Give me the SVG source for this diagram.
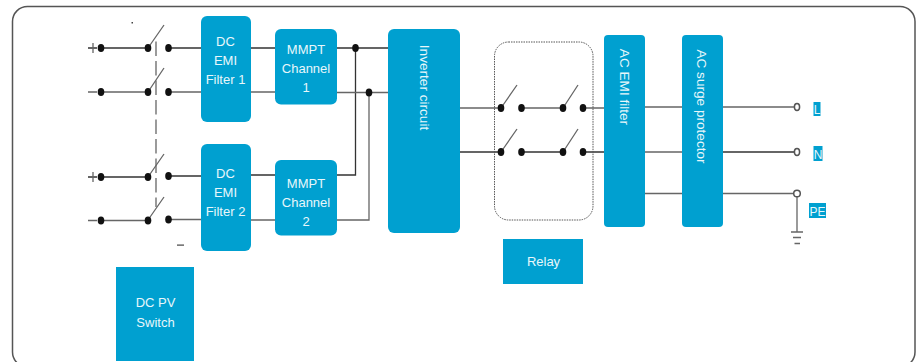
<svg xmlns="http://www.w3.org/2000/svg" width="920" height="362" viewBox="0 0 920 362">
<style>
text{font-family:"Liberation Sans",Arial,sans-serif;font-size:13px;fill:#e8f7fb;text-anchor:middle}
.b{fill:#00a0d0}
.w{fill:none;stroke:#333;stroke-width:1.3}
.g{fill:none;stroke:#666;stroke-width:1.3}
.d{fill:#111}
.o{fill:#fff;stroke:#555;stroke-width:1.5}
.t{font-size:12px}
.v{font-size:13.600px}
</style>
<rect width="920" height="362" fill="#fff"/>
<rect id="frame" x="12.500" y="6.500" width="902.500" height="360.500" rx="15" fill="none" stroke="#555" stroke-width="1.500"/>
<g id="connectors">
<path class="w" d="M88 48H97M101 48H148M168 48H201M251 48H275M337 48H388M355.500 48V175H337M251 175H275M168 176H201M101 177H148M88 177H97"/>
<path class="g" d="M88 92H97M101 92H148M168 92H201M251 92H275M337 92.500H388M369 92.500V220H337M251 220H275M168 219.500H201M101 220.500H148M88 220.500H97"/>
<path class="g" d="M93 43V53M93 172V182"/>
<path class="g" d="M148 48L164 25M148 92L164 68M148 177L164 154M148 220L164 197"/>
<path d="M156 41.500V207" fill="none" stroke="#666" stroke-width="1.300" stroke-dasharray="14.500 5"/>
<path class="g" d="M460 108H501M521 108H563M583 108H604M501 108L517 85M563 108L578 85M501 152L517 129M563 152L578 129"/>
<path class="w" d="M460 152H501M521 152H563M583 152H604"/>
<path class="g" d="M645 107H682M645 152H682M645 193.500H682"/>
<path class="g" d="M723 107H794M723 193.500H794M797 197V232M791 232H803M793 237.500H801M794.500 243.500H800"/>
<path class="w" d="M723 152H794"/>
<g class="d">
<ellipse cx="101" cy="48" rx="3.300" ry="4"/><ellipse cx="148" cy="48" rx="3.300" ry="4"/><ellipse cx="168.500" cy="48" rx="3.300" ry="4"/>
<ellipse cx="101" cy="92" rx="3.300" ry="4"/><ellipse cx="148" cy="92" rx="3.300" ry="4"/><ellipse cx="168.500" cy="92" rx="3.300" ry="4"/>
<ellipse cx="101" cy="177" rx="3.300" ry="4"/><ellipse cx="148" cy="177" rx="3.300" ry="4"/><ellipse cx="168.500" cy="176" rx="3.300" ry="4"/>
<ellipse cx="101" cy="220.500" rx="3.300" ry="4"/><ellipse cx="148" cy="220.500" rx="3.300" ry="4"/><ellipse cx="168.500" cy="219.500" rx="3.300" ry="4"/>
<ellipse cx="355.500" cy="48" rx="3.300" ry="4"/><ellipse cx="369" cy="92.500" rx="3.300" ry="4"/>
<ellipse cx="501" cy="108" rx="3.300" ry="4"/><ellipse cx="521.500" cy="108" rx="3.300" ry="4"/><ellipse cx="563" cy="108" rx="3.300" ry="4"/><ellipse cx="583" cy="108" rx="3.300" ry="4"/>
<ellipse cx="501" cy="152" rx="3.300" ry="4"/><ellipse cx="521.500" cy="152" rx="3.300" ry="4"/><ellipse cx="563" cy="152" rx="3.300" ry="4"/><ellipse cx="583" cy="152" rx="3.300" ry="4"/>
</g>
<ellipse class="o" cx="797" cy="107" rx="2.600" ry="3.400"/><ellipse class="o" cx="797" cy="152" rx="2.600" ry="3.400"/><circle class="o" cx="797" cy="193.500" r="3.300"/>
<rect x="131.500" y="22" width="1.500" height="1.500" fill="#444"/>
<rect x="177" y="244.500" width="7" height="1.200" fill="#444"/>
</g>
<g id="filter1"><rect class="b" x="201" y="16" width="50" height="106" rx="6"/><text x="225.500" y="46">DC</text><text x="225.500" y="65">EMI</text><text x="225.500" y="84">Filter 1</text></g>
<g id="channel1"><rect class="b" x="275" y="29" width="62" height="75.500" rx="6"/><text x="306" y="54">MMPT</text><text x="306" y="73">Channel</text><text x="306" y="92">1</text></g>
<g id="filter2"><rect class="b" x="201" y="144" width="50" height="107" rx="6"/><text x="225.500" y="178">DC</text><text x="225.500" y="197">EMI</text><text x="225.500" y="216">Filter 2</text></g>
<g id="channel2"><rect class="b" x="275" y="160" width="62" height="75.500" rx="6"/><text x="306" y="188">MMPT</text><text x="306" y="207">Channel</text><text x="306" y="226">2</text></g>
<g id="inverter"><rect class="b" x="388" y="29" width="72" height="204" rx="6"/><text class="v" transform="translate(419.500 87.500) rotate(90)">Inverter circuit</text></g>
<g id="relaybox"><rect x="494.500" y="42" width="98.500" height="178" rx="14" fill="none" stroke="#555" stroke-width="1" stroke-dasharray="1.500 1"/></g>
<g id="acemi"><rect class="b" x="604" y="35" width="41" height="192" rx="4"/><text class="v" transform="translate(620 87) rotate(90)">AC EMI filter</text></g>
<g id="acsurge"><rect class="b" x="682" y="35" width="41" height="192" rx="4"/><text class="v" transform="translate(697 106.500) rotate(90)">AC surge protector</text></g>
<g id="relay"><rect class="b" x="503" y="239" width="80" height="45"/><text x="543.500" y="266">Relay</text></g>
<g id="dcpv"><rect class="b" x="116" y="267" width="78" height="94"/><text x="155.500" y="307">DC PV</text><text x="155.500" y="327">Switch</text></g>
<g id="labelL"><rect class="b" x="813.500" y="102" width="7" height="14"/><text class="t" x="817" y="113.500">L</text></g>
<g id="labelN"><rect class="b" x="813.500" y="146" width="9" height="15"/><text class="t" x="818" y="158.500">N</text></g>
<g id="labelPE"><rect class="b" x="809" y="203" width="17" height="15"/><text class="t" x="817.500" y="215.500">PE</text></g>
</svg>
